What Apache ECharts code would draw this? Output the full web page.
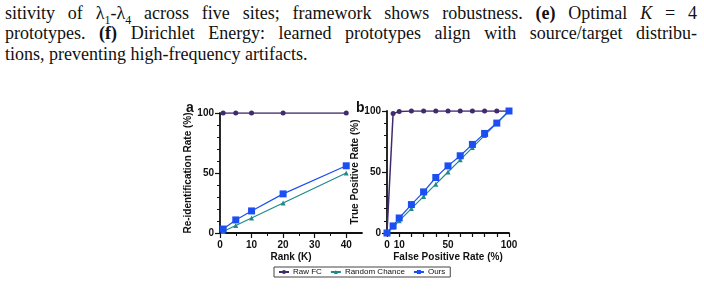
<!DOCTYPE html>
<html>
<head>
<meta charset="utf-8">
<script src="https://cdn.jsdelivr.net/npm/echarts@6/dist/echarts.min.js"></script>
<style>
  html, body { margin: 0; padding: 0; background: #fff; }
  .page { position: relative; width: 704px; height: 303px; overflow: hidden; }
  .caption {
    position: absolute; left: 5px; top: 2.5px; width: 692px;
    font-family: "Liberation Serif", "DejaVu Serif", serif;
    font-size: 18px; line-height: 20.5px; color: #111;
  }
  .caption .ln { white-space: nowrap; }
  .caption .just { text-align: justify; text-align-last: justify; white-space: normal; }
  .caption sub { font-size: 12px; line-height: 0; }
  #chart { position: absolute; left: 0; top: 0; width: 704px; height: 303px; }
</style>
</head>
<body>
<div class="page">
  <div class="caption">
    <div class="ln just">sitivity of λ<sub>1</sub>-λ<sub>4</sub> across five sites; framework shows robustness. <b>(e)</b> Optimal <i>K</i> = 4</div>
    <div class="ln just">prototypes. <b>(f)</b> Dirichlet Energy: learned prototypes align with source/target distribu-</div>
    <div class="ln">tions, preventing high-frequency artifacts.</div>
  </div>
  <div id="chart"></div>
</div>
<script>
// panel a: re-identification rate vs rank
const rankK = [1, 5, 10, 20, 40]
const rankRawFC = [100, 100, 100, 100, 100]
const rankRandom = [1.25, 6.25, 12.5, 25, 50]
const rankOurs = [3.3, 10.9, 18.4, 32.6, 56]

// panel b: ROC
const fpr = [0, 5, 10, 20, 30, 40, 50, 60, 70, 80, 90, 100]
const tprRawFC = [0, 98, 99.5, 100, 100, 100, 100, 100, 100, 100, 100, 100]
const tprRandom = [0, 5, 10, 20, 30, 40, 50, 60, 70, 80, 90, 100]
const tprOurs = [0, 5.8, 12.3, 23.3, 33.7, 45.5, 55, 63.3, 72.6, 81.6, 90.1, 100]

const rankTicks = [0, 10, 20, 30, 40]
const rankMinorTicks = [5, 15, 25, 35]
const fprLabels = [0, 10, 50, 100]
const fprTicks = [0, 10, 20, 30, 40, 50, 60, 70, 80, 90, 100]

const C_RAW = '#3f2b6e'
const C_RAND = '#1f8a8c'
const C_OURS = '#1c4ff2'
const FONT = 'Liberation Sans, Arial, sans-serif'

const pairs = (xs, ys) => xs.map((x, i) => [x, ys[i]])

const axisLine = { lineStyle: { color: '#111', width: 1.8 } }
const labelStyle = { color: '#111', fontFamily: FONT, fontWeight: 'bold', fontSize: 10 }
const nameStyle = { color: '#111', fontFamily: FONT, fontWeight: 'bold', fontSize: 10 }

function yAxisFor(gridIndex, name, gap) {
  return {
    type: 'value', gridIndex, min: 0, max: 100, interval: 50,
    name, nameLocation: 'middle', nameGap: gap, nameTextStyle: nameStyle,
    axisLine: { show: true, ...axisLine },
    axisTick: { show: true, length: 5, lineStyle: { color: '#111', width: 1.2 } },
    minorTick: { show: true, splitNumber: 5, length: 3, lineStyle: { color: '#111', width: 1 } },
    axisLabel: { ...labelStyle, margin: 6 },
    splitLine: { show: false }
  }
}

function lineSeries(name, color, symbol, size, data, xi, yi, width) {
  return {
    name, type: 'line', xAxisIndex: xi, yAxisIndex: yi, data,
    symbol, symbolSize: size, color,
    lineStyle: { color, width },
    itemStyle: { color },
    animation: false
  }
}

const chart = echarts.init(document.getElementById('chart'))
chart.setOption({
  animation: false,
  grid: [
    { left: 220, top: 113, width: 142, height: 120 },
    { left: 387, top: 111, width: 122, height: 122 }
  ],
  xAxis: [
    {
      type: 'value', gridIndex: 0, min: 0, max: 45,
      name: 'Rank (K)', nameLocation: 'middle', nameGap: 19, nameTextStyle: nameStyle,
      axisLine: { show: true, onZero: false, ...axisLine },
      axisTick: { show: true, length: 5, customValues: rankTicks, lineStyle: { color: '#111', width: 1.2 } },
      axisLabel: { ...labelStyle, margin: 7, customValues: rankTicks },
      splitLine: { show: false }
    },
    {
      type: 'value', gridIndex: 0, min: 0, max: 45, position: 'bottom',
      axisLine: { show: false, onZero: false },
      axisTick: { show: true, length: 3, customValues: rankMinorTicks, lineStyle: { color: '#111', width: 1 } },
      axisLabel: { show: false },
      splitLine: { show: false }
    },
    {
      type: 'value', gridIndex: 1, min: 0, max: 100,
      name: 'False Positive Rate (%)', nameLocation: 'middle', nameGap: 19, nameTextStyle: nameStyle,
      axisLine: { show: true, onZero: false, ...axisLine },
      axisTick: { show: true, length: 4, customValues: fprTicks, lineStyle: { color: '#111', width: 1.2 } },
      axisLabel: { ...labelStyle, margin: 7, customValues: fprLabels },
      splitLine: { show: false }
    }
  ],
  yAxis: [
    yAxisFor(0, 'Re-identification Rate (%)', 25),
    yAxisFor(1, 'True Positive Rate (%)', 19)
  ],
  legend: {
    data: ['Raw FC', 'Random Chance', 'Ours'],
    left: 274, top: 267,
    orient: 'horizontal',
    borderColor: '#444', borderWidth: 1, borderRadius: 0,
    padding: [1, 5, 1, 4],
    itemWidth: 10, itemHeight: 5, itemGap: 8,
    textStyle: { fontFamily: FONT, fontSize: 8, color: '#111', padding: [0, 0, 0, -1] }
  },
  graphic: [
    { type: 'text', left: 185, top: 100, z: 10, style: { text: 'a', font: 'bold 14px ' + FONT, fill: '#111', stroke: '#fff', lineWidth: 2 } },
    { type: 'text', left: 355, top: 100, z: 10, style: { text: 'b', font: 'bold 14px ' + FONT, fill: '#111', stroke: '#fff', lineWidth: 2 } }
  ],
  series: [
    lineSeries('Raw FC', C_RAW, 'circle', 5, pairs(rankK, rankRawFC), 0, 0, 1.5),
    lineSeries('Random Chance', C_RAND, 'triangle', 5, pairs(rankK, rankRandom), 0, 0, 1.2),
    lineSeries('Ours', C_OURS, 'rect', 7, pairs(rankK, rankOurs), 0, 0, 1.2),
    lineSeries('Raw FC', C_RAW, 'circle', 5, pairs(fpr, tprRawFC), 2, 1, 1.5),
    lineSeries('Random Chance', C_RAND, 'triangle', 5, pairs(fpr, tprRandom), 2, 1, 1.2),
    lineSeries('Ours', C_OURS, 'rect', 7, pairs(fpr, tprOurs), 2, 1, 1.2)
  ]
})
</script>
</body>
</html>
